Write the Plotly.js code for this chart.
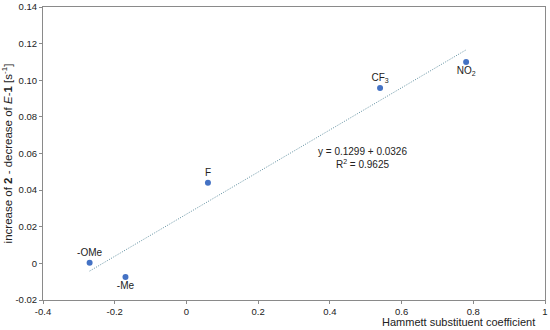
<!DOCTYPE html>
<html>
<head>
<meta charset="utf-8">
<script src="https://cdn.plot.ly/plotly-3.0.1.min.js"></script>
<style>html,body{margin:0;padding:0;background:#fff;}#chart{width:550px;height:330px;}</style>
</head>
<body>
<div id="chart"></div>
<script>
const labels = ["-OMe", "-Me", "F", "CF<sub>3</sub>", "NO<sub>2</sub>"];
const sigma = [-0.27, -0.17, 0.06, 0.54, 0.78];
const rate = [0.0003, -0.0074, 0.044, 0.0958, 0.110];
const labelPos = ["top", "bottom", "top", "top", "bottom"];
const trendX = [-0.27, 0.78];
const trendY = [-0.0042, 0.1166];
const xTicks = [-0.4, -0.2, 0, 0.2, 0.4, 0.6, 0.8, 1];
const xTickText = ["-0.4", "-0.2", "0", "0.2", "0.4", "0.6", "0.8", "1"];
const yTicks = [-0.02, 0, 0.02, 0.04, 0.06, 0.08, 0.10, 0.12, 0.14];
const yTickText = ["-0.02", "0", "0.02", "0.04", "0.06", "0.08", "0.10", "0.12", "0.14"];

const font = {family: "Liberation Sans, Arial, sans-serif", size: 9.5, color: "#222"};

const traces = [
  {x: trendX, y: trendY, mode: "lines", type: "scatter", hoverinfo: "skip",
   line: {color: "#5f8fa0", width: 1, dash: "1px,1.5px"}},
  {x: sigma, y: rate, mode: "markers+text", type: "scatter",
   text: labels, textposition: labelPos,
   textfont: {family: font.family, size: 10, color: "#222"},
   marker: {color: "#4472c4", size: 6}}
];

const layout = {
  width: 550, height: 330,
  margin: {l: 43, r: 5, t: 7, b: 30},
  paper_bgcolor: "#fff", plot_bgcolor: "#fff",
  showlegend: false,
  font: font,
  xaxis: {range: [-0.4, 1], tickvals: xTicks, ticktext: xTickText,
    showgrid: false, zeroline: false, showline: true, mirror: true,
    linecolor: "#8a8a8a", linewidth: 1, ticks: "outside", ticklen: 3,
    tickcolor: "#8a8a8a", tickfont: font},
  yaxis: {range: [-0.02, 0.14], tickvals: yTicks, ticktext: yTickText,
    showgrid: false, zeroline: false, showline: true, mirror: true,
    linecolor: "#8a8a8a", linewidth: 1, ticks: "outside", ticklen: 3,
    tickcolor: "#8a8a8a", tickfont: font,
    title: {text: "increase of <b>2</b> - decrease of <i>E</i>-<b>1</b> [s<sup>-1</sup>]",
      font: {family: font.family, size: 11.5, color: "#222"}, standoff: 4}},
  annotations: [
    {xref: "paper", yref: "paper", x: 0.985, y: -0.075, xanchor: "right", yanchor: "middle",
     text: "Hammett substituent coefficient", showarrow: false,
     font: {family: font.family, size: 11, color: "#222"}},
    {xref: "x", yref: "y", x: 0.49, y: 0.0575, xanchor: "center", yanchor: "middle",
     text: "y = 0.1299 + 0.0326<br>R<sup>2</sup> = 0.9625", showarrow: false,
     font: {family: font.family, size: 10, color: "#222"}}
  ]
};

Plotly.newPlot("chart", traces, layout, {displayModeBar: false, staticPlot: true});
</script>
</body>
</html>
